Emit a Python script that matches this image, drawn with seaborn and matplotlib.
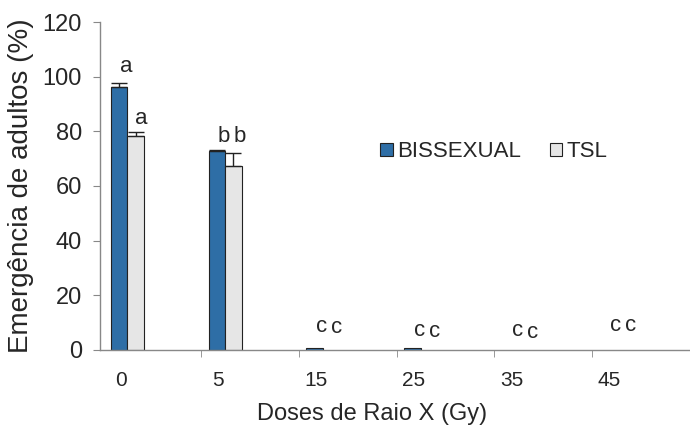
import numpy as np
import pandas as pd
import seaborn as sns
import matplotlib.pyplot as plt

# data
doses = ['0', '5', '15', '25', '35', '45']
bissexual = [96.3, 72.8, 0.5, 0.5, 0.0, 0.0]
bissexual_err = [1.5, 0.4, 0.0, 0.0, 0.0, 0.0]
tsl = [78.3, 67.4, 0.0, 0.0, 0.0, 0.0]
tsl_err = [1.6, 4.6, 0.0, 0.0, 0.0, 0.0]
letters_bis = ['a', 'b', 'c', 'c', 'c', 'c']
letters_tsl = ['a', 'b', 'c', 'c', 'c', 'c']
letter_y_bis = [101.6, 76.2, 6.7, 5.1, 4.9, 6.9]
letter_y_tsl = [82.7, 76.2, 6.3, 4.7, 4.5, 6.9]

df = pd.DataFrame({
    'dose': doses * 2,
    'val': bissexual + tsl,
    'grupo': ['BISSEXUAL'] * 6 + ['TSL'] * 6,
})

sns.set_style('white')
plt.rcParams['font.family'] = ['Liberation Sans', 'DejaVu Sans']

fig = plt.figure(figsize=(6.9, 4.34), dpi=100)
ax = fig.add_axes([0.145, 0.194, 0.855, 0.755])

colors = {'BISSEXUAL': '#2e6ea6', 'TSL': '#e6e6e6'}
sns.barplot(data=df, x='dose', y='val', hue='grupo', order=doses,
            palette=colors, saturation=1, width=0.34, edgecolor='#222222',
            linewidth=0.8, errorbar=None, ax=ax)

# hide zero height bars (Excel draws nothing there)
for cont in ax.containers:
    for p in cont.patches:
        if p.get_height() == 0:
            p.set_linewidth(0)

x = np.arange(len(doses))
off = 0.085
for xs, vals, errs in [(x - off, bissexual, bissexual_err), (x + off, tsl, tsl_err)]:
    vals = np.array(vals)
    errs = np.array(errs)
    m = errs > 0
    ax.errorbar(xs[m], vals[m], yerr=[np.zeros(m.sum()), errs[m]], fmt='none',
                ecolor='#222222', elinewidth=1, capsize=6, capthick=1)

for i in range(len(doses)):
    ax.text(x[i] - off + 0.075, letter_y_bis[i], letters_bis[i], ha='center', va='baseline', fontsize=16)
    ax.text(x[i] + off + 0.06, letter_y_tsl[i], letters_tsl[i], ha='center', va='baseline', fontsize=16)

ax.set_xlim(-0.28, 5.69)
ax.set_ylim(0, 120)
ax.set_yticks(range(0, 121, 20))
ax.set_xticks(x - 0.07)
ax.set_xticklabels(doses)
ax.set_xticks(np.arange(-0.28, 5.7, 1) + 1.035, minor=True)
ax.tick_params(axis='x', which='major', length=0, pad=15, labelsize=15)
ax.tick_params(axis='x', which='minor', length=5, direction='out', color='#888888', bottom=True)
ax.tick_params(axis='y', length=5, direction='out', color='#888888', left=True, pad=8, labelsize=17)

for s in ['top', 'right']:
    ax.spines[s].set_visible(False)
for s in ['left', 'bottom']:
    ax.spines[s].set_color('#888888')
    ax.spines[s].set_linewidth(1)

ax.set_xlabel('Doses de Raio X (Gy)', fontsize=17)
ax.xaxis.set_label_coords(0.461, -0.163)
ax.set_ylabel('Emergência de adultos (%)', fontsize=20, labelpad=6)

ax.legend(loc='center left', bbox_to_anchor=(0.46, 0.605), ncol=2, frameon=False,
          fontsize=16, handlelength=0.55, handleheight=0.55, handletextpad=0.2,
          columnspacing=1.3, title=None, borderaxespad=0)

fig.savefig('out.png', dpi=100)
